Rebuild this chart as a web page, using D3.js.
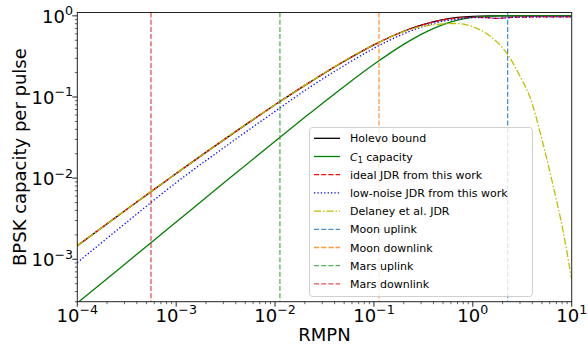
<!DOCTYPE html>
<html>
<head>
<meta charset="utf-8">
<script src="https://cdn.jsdelivr.net/npm/d3@7"></script>
<style>
  body { margin: 0; background: #fff; }
  text { font-family: "DejaVu Sans", sans-serif; fill: #000; }
</style>
</head>
<body>
<script>

// RMPN values shared by the model curves
var xs = [1e-4, 3e-4, 1e-3, 3e-3, 1e-2, 2e-2, 5e-2, 0.1, 0.2, 0.3, 0.5, 0.7, 1, 1.5, 1.75, 2, 3, 5, 10];

// curves
var holevo      = [1.47e-3, 3.94e-3, 1.14e-2, 2.94e-2, 0.0801, 0.139, 0.276, 0.439, 0.646, 0.770, 0.900, 0.956, 0.987, 0.998, 0.999, 1.0, 1.0, 1.0, 1.0];
var c1Capacity  = [2.89e-4, 8.65e-4, 2.88e-3, 8.62e-3, 0.0285, 0.0562, 0.135, 0.253, 0.445, 0.591, 0.781, 0.885, 0.958, 0.993, 0.997, 0.999, 1.0, 1.0, 1.0];
var idealJDR    = [1.47e-3, 3.94e-3, 1.14e-2, 2.94e-2, 0.0801, 0.139, 0.276, 0.439, 0.644, 0.765, 0.890, 0.940, 0.960, 0.945, 0.930, 0.940, 0.965, 0.970, 0.970];
var lowNoiseJDR = [9.1e-4, 2.72e-3, 8.8e-3, 2.35e-2, 0.0665, 0.120, 0.244, 0.399, 0.600, 0.724, 0.860, 0.910, 0.955, 0.945, 0.930, 0.940, 0.965, 0.970, 0.970];

// Delaney et al. has its own sampling (it falls off at high RMPN)
var delaneyX = [1e-4, 1e-3, 1e-2, 0.1, 0.2, 0.3, 0.4, 0.5, 0.66, 0.8, 1, 1.5, 2.23, 3, 3.78, 5.15, 6.5, 8.2, 10];
var delaneyY = [1.47e-3, 1.14e-2, 0.0801, 0.439, 0.640, 0.735, 0.775, 0.795, 0.805, 0.790, 0.735, 0.560, 0.340, 0.180, 0.100, 0.026, 8e-3, 2.2e-3, 5.6e-4];

// link RMPN markers
var linkNames  = ["Moon uplink", "Moon downlink", "Mars uplink", "Mars downlink"];
var linkRMPN   = [2.25, 0.1125, 0.0112, 5.56e-4];
var linkColors = ["#1f77b4", "#ff7f0e", "#2ca02c", "#d62728"];

var xExponents = [-4, -3, -2, -1, 0, 1];
var yExponents = [-3, -2, -1, 0];

var width = 588, height = 345;
var pLeft = 77.3, pRight = 571.7, pTop = 12.5, pBottom = 301.7;

var svg = d3.select("body").append("svg")
    .attr("width", width)
    .attr("height", height);

var x = d3.scaleLog().domain([1e-4, 10]).range([pLeft, pRight]);
var y = d3.scaleLog().domain([3e-4, 1.1]).range([pBottom, pTop]);

svg.append("clipPath").attr("id", "plotclip")
  .append("rect")
    .attr("x", pLeft).attr("y", pTop)
    .attr("width", pRight - pLeft).attr("height", pBottom - pTop);

var plot = svg.append("g").attr("clip-path", "url(#plotclip)");

var line = d3.line()
    .x(function(d) { return x(d[0]); })
    .y(function(d) { return y(d[1]); })
    .curve(d3.curveMonotoneX);

// series definitions, in plotting / legend order
var series = [
  { name: "Holevo bound", xv: xs, yv: holevo, color: "#000000", dash: null },
  { name: "C1", xv: xs, yv: c1Capacity, color: "#008000", dash: null },
  { name: "ideal JDR from this work", xv: xs, yv: idealJDR, color: "#ff0000", dash: "5,2.2" },
  { name: "low-noise JDR from this work", xv: xs, yv: lowNoiseJDR, color: "#0000ff", dash: "1.3,2.1" },
  { name: "Delaney et al. JDR", xv: delaneyX, yv: delaneyY, color: "#bfbf00", dash: "7,2,1.5,2" }
];

series.forEach(function(s) {
  var pts = s.xv.map(function(v, i) { return [v, s.yv[i]]; });
  plot.append("path")
    .attr("d", line(pts))
    .attr("fill", "none")
    .attr("stroke", s.color)
    .attr("stroke-width", 1.3)
    .attr("stroke-dasharray", s.dash);
});

// vertical link lines
linkRMPN.forEach(function(v, i) {
  plot.append("line")
    .attr("x1", x(v)).attr("x2", x(v))
    .attr("y1", pTop).attr("y2", pBottom)
    .attr("stroke", linkColors[i])
    .attr("stroke-opacity", 0.8)
    .attr("stroke-width", 1.3)
    .attr("stroke-dasharray", "5,2.2");
});

// ticks
var xMinor = [], yMinor = [];
for (var d = -5; d <= 1; d++) {
  for (var k = 2; k <= 9; k++) {
    var v = k * Math.pow(10, d);
    if (v > 1e-4 && v < 10) xMinor.push(v);
    if (v > 3e-4 && v < 1.1) yMinor.push(v);
  }
}

var axes = svg.append("g").attr("stroke", "#222");

xExponents.forEach(function(e) {
  var px = x(Math.pow(10, e));
  axes.append("line").attr("x1", px).attr("x2", px).attr("y1", pBottom).attr("y2", pBottom + 5).attr("stroke-width", 1);
});
xMinor.forEach(function(v) {
  var px = x(v);
  axes.append("line").attr("x1", px).attr("x2", px).attr("y1", pBottom).attr("y2", pBottom + 2.5).attr("stroke-width", 0.7);
});
yExponents.forEach(function(e) {
  var py = y(Math.pow(10, e));
  axes.append("line").attr("x1", pLeft - 5).attr("x2", pLeft).attr("y1", py).attr("y2", py).attr("stroke-width", 1);
});
yMinor.forEach(function(v) {
  var py = y(v);
  axes.append("line").attr("x1", pLeft - 2.5).attr("x2", pLeft).attr("y1", py).attr("y2", py).attr("stroke-width", 0.7);
});

// spines
svg.append("rect")
    .attr("x", pLeft).attr("y", pTop)
    .attr("width", pRight - pLeft).attr("height", pBottom - pTop)
    .attr("fill", "none")
    .attr("stroke", "#222")
    .attr("stroke-width", 1);

function powerLabel(sel, e) {
  sel.append("tspan").text("10");
  sel.append("tspan")
    .attr("font-size", "0.7em")
    .attr("dy", "-0.6em")
    .text(e < 0 ? "\u2212" + (-e) : String(e));
}

xExponents.forEach(function(e) {
  var t = svg.append("text")
      .attr("x", x(Math.pow(10, e)))
      .attr("y", 322)
      .attr("text-anchor", "middle")
      .attr("font-size", 18);
  powerLabel(t, e);
});

yExponents.forEach(function(e) {
  var t = svg.append("text")
      .attr("x", 73)
      .attr("y", y(Math.pow(10, e)) + 7)
      .attr("text-anchor", "end")
      .attr("font-size", 18);
  powerLabel(t, e);
});

// axis titles
svg.append("text")
    .attr("x", (pLeft + pRight) / 2)
    .attr("y", 341)
    .attr("text-anchor", "middle")
    .attr("font-size", 18)
    .text("RMPN");

svg.append("text")
    .attr("transform", "translate(26," + ((pTop + pBottom) / 2) + ") rotate(-90)")
    .attr("text-anchor", "middle")
    .attr("font-size", 18)
    .text("BPSK capacity per pulse");

// legend
var legend = svg.append("g");
legend.append("rect")
    .attr("x", 309.5).attr("y", 127.5)
    .attr("width", 223).attr("height", 169)
    .attr("rx", 3)
    .attr("fill", "#fff").attr("fill-opacity", 0.8)
    .attr("stroke", "#d0d0d0").attr("stroke-width", 1);

var entries = series.map(function(s) { return { name: s.name, color: s.color, dash: s.dash, opacity: 1 }; })
  .concat(linkNames.map(function(n, i) { return { name: n, color: linkColors[i], dash: "5,2.2", opacity: 0.8 }; }));

entries.forEach(function(en, i) {
  var ry = 138.3 + i * 18.2;
  legend.append("line")
    .attr("x1", 314).attr("x2", 340)
    .attr("y1", ry).attr("y2", ry)
    .attr("stroke", en.color)
    .attr("stroke-opacity", en.opacity)
    .attr("stroke-width", 1.3)
    .attr("stroke-dasharray", en.dash);
  var t = legend.append("text")
      .attr("x", 350)
      .attr("y", ry + 4)
      .attr("font-size", 11);
  if (en.name === "C1") {
    t.append("tspan").attr("font-style", "italic").text("C");
    t.append("tspan").attr("font-size", "8").attr("dy", 2.5).text("1");
    t.append("tspan").attr("dy", -2.5).text(" capacity");
  } else {
    t.text(en.name);
  }
});

</script>
</body>
</html>
